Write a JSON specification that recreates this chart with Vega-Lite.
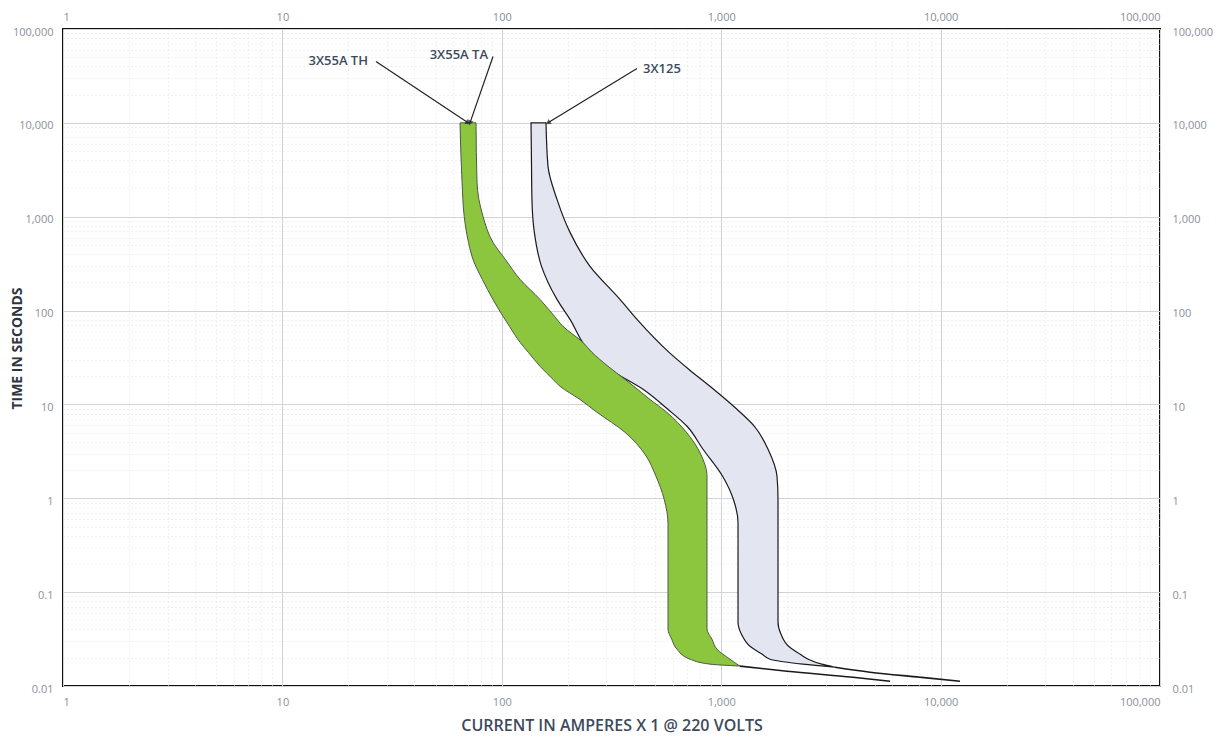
{
  "$schema": "https://vega.github.io/schema/vega-lite/v6.json",
  "width": 1097,
  "height": 657,
  "autosize": {"type": "none"},
  "padding": {"left": 63, "top": 29, "right": 71, "bottom": 51},
  "background": "white",
  "config": {
    "view": {"stroke": "#111111", "strokeWidth": 2},
    "axis": {"labelFont": "Open Sans", "labelFontSize": 11, "labelColor": "#8a909a", "titleFont": "Open Sans"}
  },
  "datasets": {
    "band55": [
      {"t": 10000, "lo": 64.5, "hi": 76.3},
      {"t": 2319, "lo": 65.9, "hi": 77.1},
      {"t": 1007, "lo": 67.4, "hi": 82.1},
      {"t": 532, "lo": 70.5, "hi": 91.2},
      {"t": 351, "lo": 73.9, "hi": 103.8},
      {"t": 215, "lo": 81.5, "hi": 121.1},
      {"t": 131.6, "lo": 91.1, "hi": 149.3},
      {"t": 86.8, "lo": 101.3, "hi": 173.9},
      {"t": 67.9, "lo": 108.4, "hi": 190.1},
      {"t": 45.9, "lo": 121.1, "hi": 234.0},
      {"t": 35.9, "lo": 132.1, "hi": 257.7},
      {"t": 25.5, "lo": 149.3, "hi": 304.8},
      {"t": 18.5, "lo": 171.2, "hi": 364.3},
      {"t": 15.6, "lo": 184.2, "hi": 399.6},
      {"t": 11.3, "lo": 227.2, "hi": 473.6},
      {"t": 8.24, "lo": 271.6, "hi": 565.0},
      {"t": 5.05, "lo": 364.3, "hi": 694.1},
      {"t": 2.94, "lo": 449.5, "hi": 807.3},
      {"t": 1.715, "lo": 504.4, "hi": 861.5},
      {"t": 0.976, "lo": 549.8, "hi": 861.5},
      {"t": 0.529, "lo": 572.3, "hi": 861.5},
      {"t": 0.0403, "lo": 572.3, "hi": 861.5},
      {"t": 0.0315, "lo": 594.9, "hi": 908.1},
      {"t": 0.0246, "lo": 628.8, "hi": 957.0},
      {"t": 0.0193, "lo": 720.9, "hi": 1097},
      {"t": 0.0171, "lo": 889.2, "hi": 1180},
      {"t": 0.0163, "lo": 1218, "hi": 1218}
    ],
    "band125": [
      {"t": 10000, "lo": 135.9, "hi": 159.0},
      {"t": 3434, "lo": 136.6, "hi": 162.4},
      {"t": 1529, "lo": 137.2, "hi": 178.5},
      {"t": 681, "lo": 140.7, "hi": 204.6},
      {"t": 296, "lo": 151.7, "hi": 252.4},
      {"t": 131.6, "lo": 178.5, "hi": 345.7},
      {"t": 80.6, "lo": 204.6, "hi": 413.2},
      {"t": 35.9, "lo": 252.4, "hi": 578.8},
      {"t": 23.6, "lo": 311.3, "hi": 713.4},
      {"t": 14.5, "lo": 440.2, "hi": 923.5},
      {"t": 8.87, "lo": 571.6, "hi": 1180},
      {"t": 5.85, "lo": 698.5, "hi": 1417},
      {"t": 3.33, "lo": 826.1, "hi": 1635},
      {"t": 1.715, "lo": 1015, "hi": 1796},
      {"t": 0.976, "lo": 1136, "hi": 1815},
      {"t": 0.555, "lo": 1193, "hi": 1815},
      {"t": 0.0478, "lo": 1193, "hi": 1815},
      {"t": 0.0356, "lo": 1237, "hi": 1873},
      {"t": 0.0265, "lo": 1353, "hi": 2029},
      {"t": 0.0218, "lo": 1539, "hi": 2291},
      {"t": 0.0193, "lo": 1669, "hi": 2492},
      {"t": 0.0171, "lo": 2359, "hi": 2873},
      {"t": 0.01585, "lo": 3303, "hi": 3303}
    ],
    "tails": [
      {"band": "3X55A", "a": 1218, "t": 0.0163},
      {"band": "3X55A", "a": 1995, "t": 0.01437},
      {"band": "3X55A", "a": 3988, "t": 0.01241},
      {"band": "3X55A", "a": 5881, "t": 0.01125},
      {"band": "3X125", "a": 3303, "t": 0.01585},
      {"band": "3X125", "a": 4767, "t": 0.01403},
      {"band": "3X125", "a": 8055, "t": 0.01241},
      {"band": "3X125", "a": 12260, "t": 0.01125}
    ],
    "arrows": [
      {"name": "TH", "a1": 26.7, "t1": 45080, "a2": 70.2, "t2": 10000},
      {"name": "TA", "a1": 91.2, "t1": 50950, "a2": 71.6, "t2": 10000},
      {"name": "3X125", "a1": 413.2, "t1": 37960, "a2": 162.4, "t2": 10000}
    ],
    "labels": [
      {"text": "3X55A TH", "a": 24.55, "t": 45080, "side": "right"},
      {"text": "3X55A TA", "a": 86.5, "t": 52220, "side": "right"},
      {"text": "3X125", "a": 440.2, "t": 37040, "side": "left"}
    ]
  },
  "layer": [
    {
      "data": {"name": "band125"},
      "mark": {"type": "area", "orient": "horizontal", "interpolate": "monotone", "fill": "#e3e6f0", "stroke": "#1a1a1a", "strokeWidth": 1.2},
      "encoding": {
        "y": {"field": "t", "type": "quantitative",
          "scale": {"type": "log", "domain": [0.01, 100000], "nice": false},
          "axis": {
            "orient": "left",
            "values": [0.01,0.02,0.03,0.04,0.05,0.06,0.07,0.08,0.09,0.1,0.2,0.3,0.4,0.5,0.6,0.7,0.8,0.9,1,2,3,4,5,6,7,8,9,10,20,30,40,50,60,70,80,90,100,200,300,400,500,600,700,800,900,1000,2000,3000,4000,5000,6000,7000,8000,9000,10000,20000,30000,40000,50000,60000,70000,80000,90000,100000],
            "labelExpr": "abs(log(datum.value)/LN10 - round(log(datum.value)/LN10)) < 0.001 ? format(datum.value, ',') : ''",
            "labelOverlap": false,
            "labelOffset": 3,
            "labelPadding": 10,
            "ticks": false,
            "domain": false,
            "grid": true,
            "gridColor": {"condition": {"test": "abs(log(datum.value)/LN10 - round(log(datum.value)/LN10)) < 0.001", "value": "#d2d4d8"}, "value": "#e2e2e2"},
            "gridDash": {"condition": {"test": "abs(log(datum.value)/LN10 - round(log(datum.value)/LN10)) < 0.001", "value": []}, "value": [1, 3]},
            "gridWidth": 1,
            "title": "TIME IN SECONDS",
            "titleFontSize": 14,
            "titleFontWeight": "bold",
            "titleColor": "#2f3540",
            "titleAngle": -90,
            "titleX": -46,
            "titleY": 319,
            "titleAlign": "center",
            "titleBaseline": "middle"
          }
        },
        "x": {"field": "lo", "type": "quantitative",
          "scale": {"type": "log", "domain": [1, 100000], "nice": false},
          "axis": {
            "orient": "bottom",
            "values": [1,2,3,4,5,6,7,8,9,10,20,30,40,50,60,70,80,90,100,200,300,400,500,600,700,800,900,1000,2000,3000,4000,5000,6000,7000,8000,9000,10000,20000,30000,40000,50000,60000,70000,80000,90000,100000],
            "labelExpr": "abs(log(datum.value)/LN10 - round(log(datum.value)/LN10)) < 0.001 ? format(datum.value, ',') : ''",
            "labelOverlap": false,
            "labelPadding": 10,
            "ticks": false,
            "domain": false,
            "grid": true,
            "gridColor": {"condition": {"test": "abs(log(datum.value)/LN10 - round(log(datum.value)/LN10)) < 0.001", "value": "#d2d4d8"}, "value": "#e2e2e2"},
            "gridDash": {"condition": {"test": "abs(log(datum.value)/LN10 - round(log(datum.value)/LN10)) < 0.001", "value": []}, "value": [1, 3]},
            "gridWidth": 1,
            "title": "CURRENT IN AMPERES X 1 @ 220 VOLTS",
            "titleFontSize": 16,
            "titleFontWeight": 600,
            "titleColor": "#3d4a5c",
            "titleY": 39,
            "titleBaseline": "middle"
          }
        },
        "x2": {"field": "hi"}
      }
    },
    {
      "data": {"name": "band55"},
      "mark": {"type": "area", "orient": "horizontal", "interpolate": "monotone", "fill": "#8cc63f", "stroke": "#4d5a45", "strokeWidth": 1},
      "encoding": {
        "y": {"field": "t", "type": "quantitative",
          "axis": {
            "orient": "right",
            "values": [0.01, 0.1, 1, 10, 100, 1000, 10000, 100000],
            "labelExpr": "format(datum.value, ',')",
            "labelOverlap": false,
            "labelOffset": 3,
            "labelPadding": 12,
            "ticks": false,
            "domain": false,
            "grid": false,
            "title": null
          }
        },
        "x": {"field": "lo", "type": "quantitative",
          "axis": {
            "orient": "top",
            "values": [1, 10, 100, 1000, 10000, 100000],
            "labelExpr": "format(datum.value, ',')",
            "labelOverlap": false,
            "labelPadding": 7,
            "ticks": false,
            "domain": false,
            "grid": false,
            "title": null
          }
        },
        "x2": {"field": "hi"}
      }
    },
    {
      "data": {"name": "tails"},
      "mark": {"type": "line", "interpolate": "monotone", "color": "#1a1a1a", "strokeWidth": 1.6},
      "encoding": {
        "x": {"field": "a", "type": "quantitative", "axis": null},
        "y": {"field": "t", "type": "quantitative", "axis": null},
        "detail": {"field": "band"}
      }
    },
    {
      "data": {"name": "arrows"},
      "mark": {"type": "rule", "color": "#222222", "strokeWidth": 1.2},
      "encoding": {
        "x": {"field": "a1", "type": "quantitative", "axis": null},
        "y": {"field": "t1", "type": "quantitative", "axis": null},
        "x2": {"field": "a2"},
        "y2": {"field": "t2"}
      }
    },
    {
      "data": {"name": "arrows"},
      "transform": [{"filter": "datum.name === 'TH'"}],
      "mark": {"type": "point", "shape": "triangle-up", "filled": true, "color": "#222222", "size": 35, "angle": 123},
      "encoding": {
        "x": {"field": "a2", "type": "quantitative", "axis": null},
        "y": {"field": "t2", "type": "quantitative", "axis": null}
      }
    },
    {
      "data": {"name": "arrows"},
      "transform": [{"filter": "datum.name === 'TA'"}],
      "mark": {"type": "point", "shape": "triangle-up", "filled": true, "color": "#222222", "size": 35, "angle": 199},
      "encoding": {
        "x": {"field": "a2", "type": "quantitative", "axis": null},
        "y": {"field": "t2", "type": "quantitative", "axis": null}
      }
    },
    {
      "data": {"name": "arrows"},
      "transform": [{"filter": "datum.name === '3X125'"}],
      "mark": {"type": "point", "shape": "triangle-up", "filled": true, "color": "#222222", "size": 35, "angle": 239},
      "encoding": {
        "x": {"field": "a2", "type": "quantitative", "axis": null},
        "y": {"field": "t2", "type": "quantitative", "axis": null}
      }
    },
    {
      "data": {"name": "labels"},
      "transform": [{"filter": "datum.side === 'right'"}],
      "mark": {"type": "text", "align": "right", "baseline": "middle", "font": "Open Sans", "fontSize": 13, "fontWeight": 600, "color": "#3d4a5c"},
      "encoding": {
        "x": {"field": "a", "type": "quantitative", "axis": null},
        "y": {"field": "t", "type": "quantitative", "axis": null},
        "text": {"field": "text"}
      }
    },
    {
      "data": {"name": "labels"},
      "transform": [{"filter": "datum.side === 'left'"}],
      "mark": {"type": "text", "align": "left", "baseline": "middle", "font": "Open Sans", "fontSize": 13, "fontWeight": 600, "color": "#3d4a5c"},
      "encoding": {
        "x": {"field": "a", "type": "quantitative", "axis": null},
        "y": {"field": "t", "type": "quantitative", "axis": null},
        "text": {"field": "text"}
      }
    }
  ]
}
